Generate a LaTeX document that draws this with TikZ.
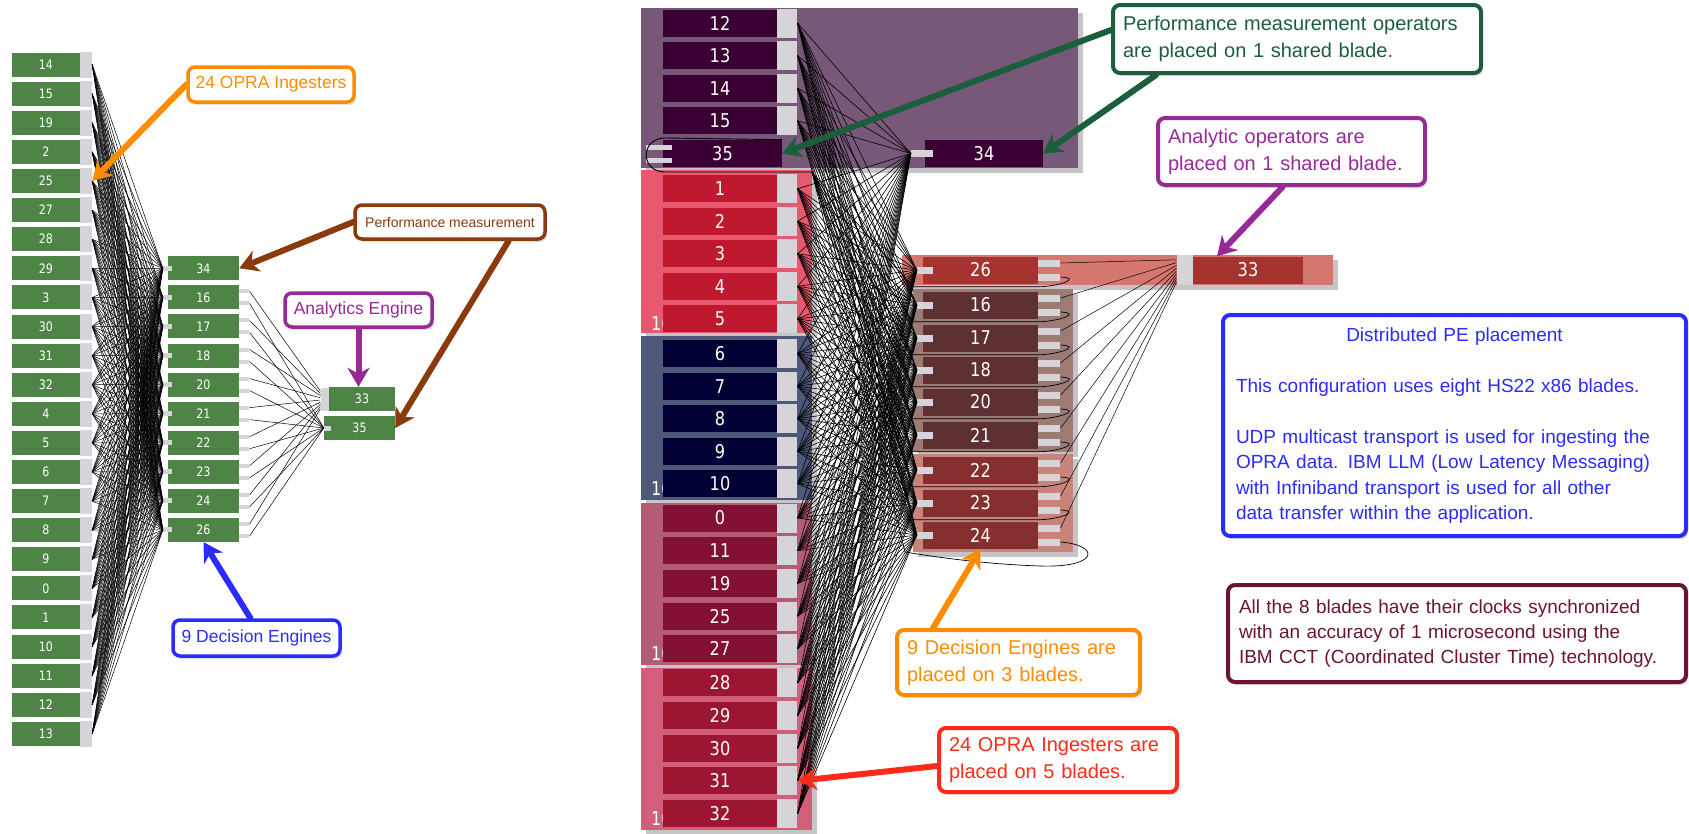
\documentclass[tikz,border=0pt]{standalone}
\usepackage{fontspec}
\setmainfont{Liberation Sans}
\newfontfamily\numfont{DejaVu Sans}[FakeStretch=0.85]
\usetikzlibrary{arrows.meta,shadows,calc}

\definecolor{opgreen}{HTML}{4E8546}
\definecolor{portgray}{HTML}{D6D4D9}
\definecolor{bladeA}{HTML}{775878}
\definecolor{peA}{HTML}{3A0034}
\definecolor{bladeB}{HTML}{E8596F}
\definecolor{peB}{HTML}{BF192F}
\definecolor{bladeC}{HTML}{505879}
\definecolor{peC}{HTML}{000035}
\definecolor{bladeD}{HTML}{B45C75}
\definecolor{peD}{HTML}{821031}
\definecolor{bladeE}{HTML}{D25E79}
\definecolor{peE}{HTML}{9C1531}
\definecolor{bladeF}{HTML}{D4776F}
\definecolor{peF}{HTML}{A5332F}
\definecolor{bladeG}{HTML}{9C7B75}
\definecolor{peG}{HTML}{5E3031}
\definecolor{bladeH}{HTML}{C8847A}
\definecolor{peH}{HTML}{85302F}
\definecolor{cOrange}{HTML}{FF8C00}
\definecolor{cBrown}{HTML}{8A3A0C}
\definecolor{cPurple}{HTML}{962A96}
\definecolor{cBlue}{HTML}{2B2BFF}
\definecolor{cGreen}{HTML}{1B5E3B}
\definecolor{cRed}{HTML}{FF2A1A}
\definecolor{cMaroon}{HTML}{6B1530}

\tikzset{
  op/.style = {fill=opgreen, text=white, inner sep=0pt, minimum height=24pt,
    font=\numfont\fontsize{13}{13}\selectfont},
  pe/.style = {text=white, inner sep=0pt, minimum width=114pt, minimum height=27pt,
    font=\numfont\fontsize{19}{19}\selectfont},
  port/.style = {fill=portgray, inner sep=0pt},
  blade/.style = {inner sep=0pt, drop shadow={shadow xshift=5pt, shadow yshift=-5pt, fill=black!45}},
  wire/.style = {line width=0.5pt, black},
  callout/.style = {draw, fill=white, line width=4pt, rounded corners=7pt, inner sep=0pt,
    drop shadow={shadow xshift=2pt, shadow yshift=-3pt, fill=black!25}},
  callarrow/.style = {line width=6pt, line cap=round, -{Stealth[length=19pt, width=22pt, inset=6pt]}},
  small/.style = {callout, line width=3.5pt, font=\fontsize{17.5}{17.5}\selectfont},
  big/.style = {callout, align=left, inner xsep=10pt, font=\fontsize{20}{27}\selectfont},
}

\begin{document}
\begin{tikzpicture}[x=1pt, y=-1pt]
\useasboundingbox (0,0) rectangle (1689,833);

\foreach \n [count=\i from 0] in {14,15,19,2,25,27,28,29,3,30,31,32,4,5,6,7,8,9,0,1,10,11,12,13} {
  \node[op, minimum width=68pt] (I\n) at (46,{64.7+29.09*\i}) {\n};
  \node[port, minimum width=12pt, minimum height=26pt] (Ip\n) at (86,{64.7+29.09*\i}) {};
}
\foreach \n [count=\i from 0] in {34,16,17,18,20,21,22,23,24,26} {
  \node[op, minimum width=71pt] (D\n) at (203.5,{268.3+29.07*\i}) {\n};
  \node[port, minimum width=9pt, minimum height=5pt] (Dp\n) at (167.5,{268.3+29.07*\i}) {};
}
\foreach \n in {16,17,18,20,21,22,23,24,26} {
  \node[port, minimum width=10pt, minimum height=4pt, anchor=west] (Da\n) at ([yshift=6pt]D\n.east) {};
  \node[port, minimum width=10pt, minimum height=4pt, anchor=west] (Db\n) at ([yshift=-6pt]D\n.east) {};
}
\node[op, minimum width=66pt] (A33) at (362,399) {33};
\node[port, minimum width=8pt, minimum height=23pt, anchor=east] (A33p) at (A33.west) {};
\node[op, minimum width=71pt] (A35) at (359.5,428) {35};
\node[port, minimum width=7pt, minimum height=5pt, anchor=west] (A35p) at (A35.west) {};

\foreach \a in {14,15,19,2,25,27,28,29,3,30,31,32,4,5,6,7,8,9,0,1,10,11,12,13}
  \foreach \b in {34,16,17,18,20,21,22,23,24,26}
    \draw[wire] (Ip\a.east) -- (Dp\b.west);
\foreach \b [count=\k] in {16,17,18,20,21,22,23,24,26} {
  \draw[wire] (Da\b.east) -- ([yshift={(10-2.2*\k)*1pt}]A33p.west);
  \draw[wire] (Db\b.east) -- (A35p.west);
}

\node[small, draw=cOrange, text=cOrange, minimum width=166pt, minimum height=35pt] (cIng) at (271,84.5) {24 OPRA Ingesters};
\draw[callarrow, cOrange] (cIng.west) -- (Ip25.east);
\node[small, draw=cBrown, text=cBrown, minimum width=190pt, minimum height=34pt, font=\fontsize{14}{14}\selectfont] (cPerf) at (450,222) {Performance measurement};
\draw[callarrow, cBrown] (cPerf.west) -- (D34.east);
\draw[callarrow, cBrown] ([xshift=-38pt]cPerf.south east) -- (A35.east);
\node[small, draw=cPurple, text=cPurple, minimum width=147pt, minimum height=34pt] (cAna) at (358.5,310) {Analytics Engine};
\draw[callarrow, cPurple] (cAna.south) -- (cAna.south |- A33.north);
\node[small, draw=cBlue, text=cBlue, minimum width=167pt, minimum height=36pt] (cDec) at (256.5,638) {9 Decision Engines};
\draw[callarrow, cBlue] ([xshift=-6pt]cDec.north) -- (D26.south);

\node[blade, fill=bladeA, minimum width=437pt, minimum height=160pt] (BA) at (859.5,88) {};
\node[blade, fill=bladeB, minimum width=171pt, minimum height=163pt] (BB) at (726.5,251.5) {};
\node[blade, fill=bladeC, minimum width=171pt, minimum height=164pt] (BC) at (726.5,418) {};
\node[blade, fill=bladeD, minimum width=171pt, minimum height=162pt] (BD) at (726.5,584) {};
\node[blade, fill=bladeE, minimum width=171pt, minimum height=162pt] (BE) at (726.5,749) {};
\foreach \y [count=\k] in {324,489,654,819}
  \node[text=white, anchor=west, inner sep=0pt, font=\numfont\fontsize{19}{19}\selectfont] (tag\k) at (651,\y) {10};

\foreach \n/\y/\c in {12/23/peA, 13/55.6/peA, 14/88.2/peA, 15/120.8/peA,
    1/188.8/peB, 2/221.3/peB, 3/253.8/peB, 4/286.3/peB, 5/318.8/peB,
    6/353.7/peC, 7/386.2/peC, 8/418.7/peC, 9/451.2/peC, 10/483.7/peC,
    0/518/peD, 11/550.7/peD, 19/583.4/peD, 25/616.1/peD, 27/648.8/peD,
    28/682.8/peE, 29/715.5/peE, 30/748.2/peE, 31/780.9/peE, 32/813.6/peE} {
  \node[pe, fill=\c] (P\n) at (720,\y) {\n};
  \node[port, minimum width=20pt, minimum height=29pt, anchor=west] (S\n) at (P\n.east) {};
}
\node[pe, fill=peA, minimum width=119pt] (P35) at (722.5,153.4) {35};
\node[port, minimum width=26pt, minimum height=5pt] (P35a) at (659,147) {};
\node[port, minimum width=26pt, minimum height=5pt] (P35b) at (659,160) {};

\node[pe, fill=peA, minimum width=118pt] (R34) at (984,153.5) {34};
\node[port, minimum width=22pt, minimum height=7pt] (Rt34) at (922,153.5) {};

\node[blade, fill=bladeF, minimum width=431pt, minimum height=30pt] (BF) at (1117.5,270) {};
\node[blade, fill=bladeG, minimum width=160pt, minimum height=163pt] (BG) at (993,370.5) {};
\node[blade, fill=bladeH, minimum width=160pt, minimum height=98pt] (BH) at (993,503) {};
\foreach \n/\y/\c in {26/270/peF, 16/305/peG, 17/338/peG, 18/370/peG, 20/402/peG,
    21/435/peG, 22/470/peH, 23/503/peH, 24/535/peH} {
  \node[pe, fill=\c, minimum width=115pt] (R\n) at (980.5,\y) {\n};
  \node[port, minimum width=16pt, minimum height=7pt] (Rt\n) at (925,\y) {};
  \node[port, minimum width=22pt, minimum height=7pt, anchor=west] (Ra\n) at ([yshift=7pt]R\n.east) {};
  \node[port, minimum width=22pt, minimum height=7pt, anchor=west] (Rb\n) at ([yshift=-7pt]R\n.east) {};
}
\node[pe, fill=peF, minimum width=110pt] (R33) at (1248,270) {33};
\node[port, minimum width=16pt, minimum height=30pt, anchor=east] (S33) at (R33.west) {};

\foreach \a in {12,13,14,15,1,2,3,4,5,6,7,8,9,10,0,11,19,25,27,28,29,30,31,32}
  \foreach \b in {34,26,16,17,18,20,21,22,23,24}
    \draw[wire, line width=0.6pt] (S\a.east) -- (Rt\b.west);
\foreach \n [count=\k] in {26,16,17,18,20,21,22,23,24}
  \draw[wire] (Ra\n.east) -- ([yshift={(13-2.8*\k)*1pt}]S33.west);
\coordinate (Q35) at (812,172);
\foreach \n in {26,16,17,18,20,21,22,23}
  \draw[wire, line width=0.7pt] (Rb\n.east) .. controls +(22,1) and +(20,0) .. ([yshift=-3pt]R\n.south east)
    -- ([xshift=-10pt,yshift=-3pt]R\n.south west) -- (Q35);
\draw[wire, line width=0.7pt] (Rb24.east) .. controls (1100,545) and (1100,568) .. (1040,566)
  .. controls (980,564) and (930,556) .. (905,552) -- (Q35);
\draw[wire, line width=0.9pt] (Q35) -- (665,172) .. controls (640,172) and (640,138) .. (665,138) -- (P35.north east);

\node[big, draw=cGreen, text=cGreen, text width=348pt, minimum height=68pt] (cPerfR) at (1297,39)
  {Performance measurement operators\\are placed on 1 shared blade.};
\draw[callarrow, cGreen] ([yshift=9pt]cPerfR.west) -- (P35.east);
\draw[callarrow, cGreen] ([xshift=45pt]cPerfR.south west) -- (R34.east);
\node[big, draw=cPurple, text=cPurple, text width=247pt, minimum height=67pt] (cAnaR) at (1291.5,151.5)
  {Analytic operators are\\placed on 1 shared blade.};
\draw[callarrow, cPurple] ([xshift=-9pt]cAnaR.south) -- ([xshift=-31pt]R33.north);
\node[callout, draw=cBlue, text=cBlue, text width=437pt, inner xsep=13pt, minimum height=221pt,
  font=\fontsize{19}{25.5}\selectfont] (cInfo) at (1454.5,425.5)
  {\centering Distributed PE placement\par\raggedright\vspace{25.5pt}This configuration uses eight HS22 x86 blades.\par
   \vspace{25.5pt}UDP multicast transport is used for ingesting the\\OPRA data. IBM LLM (Low Latency Messaging)\\with Infiniband transport is used for all other\\data transfer within the application.\par};
\node[callout, draw=cMaroon, text=cMaroon, text width=436pt, inner xsep=11pt, minimum height=97pt, align=left,
  font=\fontsize{19}{25}\selectfont] (cClock) at (1457,633.5)
  {All the 8 blades have their clocks synchronized\\with an accuracy of 1 microsecond using the\\IBM CCT (Coordinated Cluster Time) technology.};
\node[big, draw=cOrange, text=cOrange, text width=223pt, minimum height=65pt] (cDecR) at (1018.5,662.5)
  {9 Decision Engines are\\placed on 3 blades.};
\draw[callarrow, cOrange] ([xshift=38pt]cDecR.north west) -- (R24.south);
\node[big, draw=cRed, text=cRed, text width=218pt, minimum height=64pt] (cIngR) at (1058,760)
  {24 OPRA Ingesters are\\placed on 5 blades.};
\draw[callarrow, cRed] ([yshift=-6pt]cIngR.west) -- (S31.east);

\end{tikzpicture}
\end{document}
